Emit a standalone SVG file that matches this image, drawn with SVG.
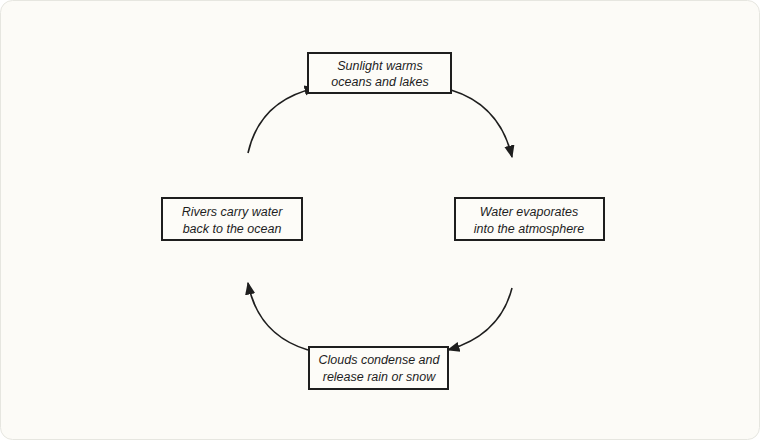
<svg xmlns="http://www.w3.org/2000/svg" width="760" height="440" viewBox="0 0 760 440">
<style>
.box{fill:#fdfcf8;stroke:#1e1e1e;stroke-width:2}
.t{font-family:"Liberation Sans",sans-serif;font-style:italic;font-size:12.5px;fill:#1e1e1e;text-anchor:middle}
.c{fill:none;stroke:#1e1e1e;stroke-width:1.6}
</style>
<defs><marker id="a" viewBox="0 0 10 10" refX="9" refY="5" markerWidth="8" markerHeight="8" orient="auto"><path d="M0,1 L10,5 L0,9 Z" fill="#1e1e1e"/></marker></defs>
<rect width="760" height="440" fill="#ffffff"/>
<rect x="0.5" y="0.5" width="759" height="439" rx="12" fill="#fcfbf7" stroke="#e6e6e0"/>
<g id="connectors">
<path class="c" d="M451,90 Q500,105 512,157" marker-end="url(#a)"/>
<path class="c" d="M512,288 Q500,335 448,350" marker-end="url(#a)"/>
<path class="c" d="M308,350 Q258,335 248,283" marker-end="url(#a)"/>
<path class="c" d="M248,153 Q260,100 316,88" marker-end="url(#a)"/>
</g>
<g id="n1"><rect class="box" x="308" y="53" width="143" height="40"/><text class="t" x="380" y="70">Sunlight warms</text><text class="t" x="380" y="86">oceans and lakes</text></g>
<g id="n2"><rect class="box" x="455" y="198" width="149" height="42"/><text class="t" x="529" y="216">Water evaporates</text><text class="t" x="529" y="233">into the atmosphere</text></g>
<g id="n3"><rect class="box" x="309" y="347" width="139" height="42"/><text class="t" x="379" y="364">Clouds condense and</text><text class="t" x="379" y="381">release rain or snow</text></g>
<g id="n4"><rect class="box" x="162" y="198" width="140" height="42"/><text class="t" x="232" y="216">Rivers carry water</text><text class="t" x="232" y="233">back to the ocean</text></g>
</svg>
